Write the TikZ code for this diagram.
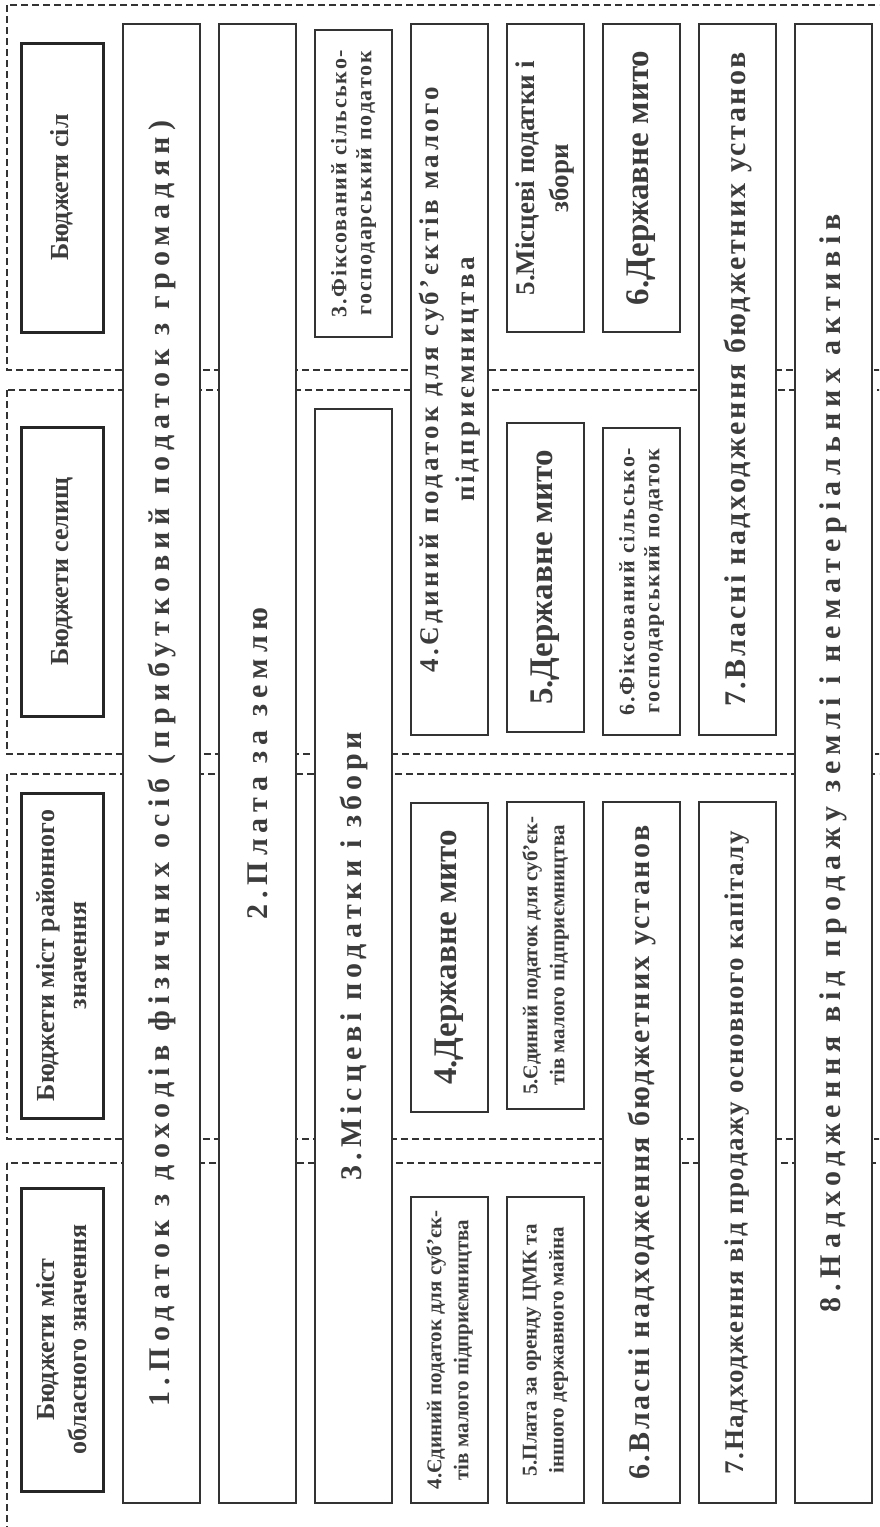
\documentclass[tikz,border=0pt]{standalone}
\usepackage{fontspec}
\setmainfont{Liberation Serif}
\usepackage{tikz}
\usetikzlibrary{positioning}
\definecolor{inkgray}{HTML}{3C3C3C}
\definecolor{rulegray}{HTML}{333333}

\begin{document}
\begin{tikzpicture}[
    x=0.5pt, y=-0.5pt,
    frame/.style={draw=rulegray, line width=0.55pt, dash pattern=on 3.3pt off 2.2pt},
    headbox/.style={rectangle, draw=black!85, line width=1.5pt, fill=white, rotate=90,
                    minimum height=41pt, inner sep=0pt, align=center, text=inkgray,
                    font=\bfseries\fontsize{13}{16}\selectfont},
    colbox/.style={rectangle, draw=rulegray, line width=0.65pt, fill=white, rotate=90,
                   minimum height=38.5pt, inner sep=0pt, align=center, text=inkgray},
    bigsp/.style={font=\bfseries\fontsize{15}{18}\selectfont\addfontfeatures{LetterSpace=#1}},
    bigtxt/.style={font=\bfseries\fontsize{16.5}{19}\selectfont},
    midsp/.style={font=\bfseries\fontsize{13.5}{18}\selectfont\addfontfeatures{LetterSpace=#1}},
    midtxt/.style={font=\bfseries\fontsize{13.5}{17}\selectfont},
    smallsp/.style={font=\bfseries\fontsize{11}{12.5}\selectfont\addfontfeatures{LetterSpace=#1}},
    smalltxt/.style={font=\bfseries\fontsize{10.5}{13.5}\selectfont}
]
\useasboundingbox (0,0) rectangle (879,1527);
\clip (0,0) rectangle (879,1527);

% ================= GROUP FRAMES =================
\draw[frame] (7,5) rectangle (890,370);
\draw[frame] (7,390) rectangle (890,754);
\draw[frame] (7,774) rectangle (890,1139);
\draw[frame] (7,1163) rectangle (890,1545);

% ================= BUDGET HEADERS =================
\node[headbox, minimum width=144.5pt] (hSil) at (62,187.5) {Бюджети сіл};
\node[headbox, minimum width=144.5pt] (hSel) at (62,571.5) {Бюджети селищ};
\node[headbox, minimum width=162.5pt] (hRaion) at (62,955.5) {Бюджети міст районного\\значення};
\node[headbox, minimum width=151.5pt] (hOblast) at (62,1339.5) {Бюджети міст\\обласного значення};

% ================= REVENUE COLUMNS =================
% full length columns
\node[colbox, bigsp=21, minimum width=739.5pt] (c1) at (161.5,763.5)
    {1.Податок з доходів фізичних осіб (прибутковий податок з громадян)};
\node[colbox, bigsp=20, minimum width=739.5pt] (c2) at (257.5,763.5) {2.Плата за землю};
\node[colbox, bigsp=20, minimum width=739.5pt] (c8) at (833.5,763.5)
    {8.Надходження від продажу землі і нематеріальних активів};

% column 3
\node[colbox, smallsp=8, minimum width=153.5pt] (c3a) at (353.5,183.5)
    {3.Фіксований сільсько-\\господарський податок};
\node[colbox, bigsp=16.5, minimum width=547pt] (c3b) at (353.5,956) {3.Місцеві податки і збори};

% column 4
\node[colbox, midsp=12.5, minimum width=355.5pt] (c4a) at (449.5,379.5)
    {4.Єдиний податок для суб'єктів малого\\підприємництва};
\node[colbox, bigtxt, minimum width=154.5pt] (c4b) at (449.5,957.5) {4.Державне мито};
\node[colbox, smalltxt, minimum width=153pt] (c4c) at (449.5,1350)
    {4.Єдиний податок для суб'єк-\\тів малого підприємництва};

% column 5
\node[colbox, midtxt, minimum width=154pt] (c5a) at (545.5,178) {5.Місцеві податки і\\збори};
\node[colbox, bigtxt, minimum width=154.5pt] (c5b) at (545.5,577.5) {5.Державне мито};
\node[colbox, smalltxt, minimum width=153.5pt] (c5c) at (545.5,955.5)
    {5.Єдиний податок для суб'єк-\\тів малого підприємництва};
\node[colbox, smalltxt, minimum width=153pt] (c5d) at (545.5,1350)
    {5.Плата за оренду ЦМК та\\іншого державного майна};

% column 6
\node[colbox, bigtxt, minimum width=154pt] (c6a) at (641.5,178) {6.Державне мито};
\node[colbox, smallsp=8, minimum width=153.5pt] (c6b) at (641.5,581.5)
    {6.Фіксований сільсько-\\господарський податок};
\node[colbox, bigsp=8.5, minimum width=350.5pt] (c6c) at (641.5,1152.5)
    {6.Власні надходження бюджетних установ};

% column 7
\node[colbox, bigsp=8.5, minimum width=355.5pt] (c7a) at (737.5,379.5)
    {7.Власні надходження бюджетних установ};
\node[colbox, midsp=6, minimum width=350.5pt] (c7b) at (737.5,1152.5)
    {7.Надходження від продажу основного капіталу};

\end{tikzpicture}
\end{document}
